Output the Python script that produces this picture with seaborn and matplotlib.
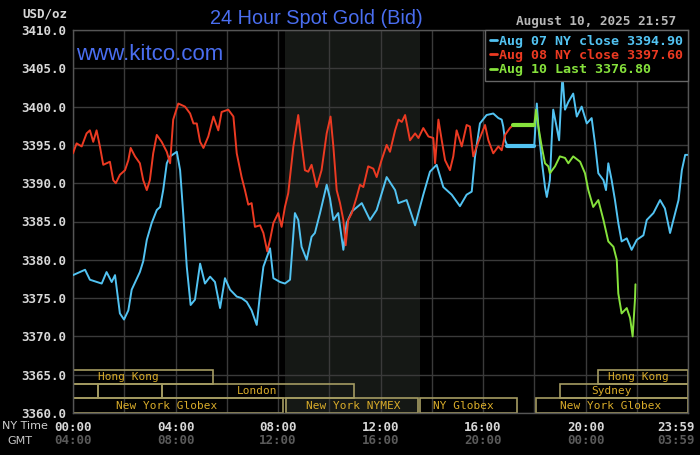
import matplotlib
matplotlib.use("Agg")
import matplotlib.pyplot as plt
from matplotlib.lines import Line2D
from matplotlib.patches import Rectangle
import matplotlib.transforms as mtransforms
import pandas as pd
import seaborn as sns

# series values (hour of NY day, USD/oz)
aug07_hours = [0.0, 0.47, 0.66, 1.12, 1.31, 1.51, 1.64, 1.83, 1.99, 2.16, 2.29, 2.61, 2.74, 2.88,
               3.07, 3.27, 3.40, 3.52, 3.66, 3.79, 4.05, 4.18, 4.30, 4.44, 4.59, 4.76, 4.96, 5.15,
               5.35, 5.54, 5.74, 5.93, 6.13, 6.39, 6.58, 6.78, 6.97, 7.17, 7.30, 7.43, 7.69, 7.82,
               8.08, 8.27, 8.47, 8.66, 8.79, 8.92, 9.12, 9.31, 9.44, 9.64, 9.90, 10.03, 10.16,
               10.35, 10.55, 10.68, 10.88, 11.27, 11.59, 11.85, 12.24, 12.57, 12.70, 13.02, 13.35,
               13.67, 13.93, 14.19, 14.45, 14.78, 15.10, 15.36, 15.56, 15.69, 15.88, 16.14, 16.40,
               16.60, 16.73, 16.79, 16.86, 16.95]
aug07_prices = [3378.0, 3378.7, 3377.4, 3376.9, 3378.4, 3377.1, 3378.0, 3373.0, 3372.2, 3373.4,
                3376.1, 3378.4, 3379.8, 3382.6, 3384.8, 3386.5, 3386.9, 3389.1, 3392.6, 3393.5,
                3394.1, 3391.7, 3386.1, 3379.1, 3374.1, 3374.8, 3379.5, 3376.9, 3377.8, 3377.1,
                3373.7, 3377.6, 3376.1, 3375.2, 3375.0, 3374.5, 3373.4, 3371.5, 3375.6, 3379.1,
                3381.5, 3377.6, 3377.1, 3376.9, 3377.4, 3386.1, 3385.2, 3381.7, 3380.0, 3383.0,
                3383.5, 3386.1, 3389.8, 3388.0, 3385.2, 3386.1, 3381.3, 3384.8, 3386.3, 3387.4,
                3385.2, 3386.5, 3390.8, 3389.1, 3387.4, 3387.8, 3384.5, 3388.5, 3391.5, 3392.4,
                3389.5, 3388.5, 3387.0, 3388.5, 3388.9, 3393.5, 3397.8, 3398.9, 3399.1, 3398.5,
                3398.3, 3397.4, 3395.6, 3394.9]
aug07_eve_hours = [18.0, 18.10, 18.16, 18.29, 18.42, 18.49, 18.61, 18.68, 18.74, 18.87, 18.97,
                   19.03, 19.10, 19.20, 19.33, 19.52, 19.66, 19.85, 20.05, 20.24, 20.37, 20.50,
                   20.70, 20.80, 20.89, 21.02, 21.15, 21.28, 21.41, 21.61, 21.80, 22.00, 22.26,
                   22.39, 22.65, 22.91, 23.10, 23.30, 23.43, 23.63, 23.76, 23.89, 23.98]
aug07_eve_prices = [3394.9, 3400.4, 3397.4, 3393.0, 3389.5, 3388.2, 3390.4, 3395.6, 3399.6,
                    3397.4, 3395.6, 3399.6, 3404.1, 3399.6, 3400.6, 3401.7, 3398.7, 3400.0,
                    3397.8, 3398.5, 3395.2, 3391.3, 3390.4, 3389.1, 3392.6, 3390.4, 3387.8,
                    3384.8, 3382.4, 3382.8, 3381.3, 3382.6, 3383.2, 3385.2, 3386.1, 3387.8,
                    3386.7, 3383.5, 3385.2, 3387.8, 3391.7, 3393.7, 3393.7]
aug08_hours = [0.0, 0.14, 0.34, 0.53, 0.66, 0.79, 0.92, 1.05, 1.18, 1.44, 1.57, 1.67, 1.83, 2.03,
               2.16, 2.25, 2.42, 2.61, 2.74, 2.88, 3.00, 3.13, 3.27, 3.46, 3.66, 3.79, 3.91, 4.11,
               4.37, 4.57, 4.70, 4.83, 4.96, 5.09, 5.28, 5.48, 5.67, 5.80, 6.06, 6.26, 6.39, 6.58,
               6.71, 6.84, 6.97, 7.10, 7.30, 7.43, 7.58, 7.69, 7.82, 8.01, 8.14, 8.27, 8.40, 8.60,
               8.79, 8.92, 9.05, 9.18, 9.31, 9.51, 9.70, 9.90, 10.05, 10.16, 10.29, 10.42, 10.55,
               10.64, 10.74, 10.88, 11.07, 11.20, 11.33, 11.52, 11.72, 11.85, 12.04, 12.24, 12.37,
               12.57, 12.70, 12.83, 12.96, 13.15, 13.35, 13.48, 13.67, 13.87, 14.06, 14.13, 14.26,
               14.39, 14.52, 14.71, 14.84, 14.97, 15.17, 15.36, 15.49, 15.62, 15.82, 16.08, 16.21,
               16.40, 16.60, 16.73, 16.86, 17.05, 17.18]
aug08_prices = [3393.9, 3395.2, 3394.8, 3396.5, 3396.9, 3395.4, 3396.9, 3394.8, 3392.4, 3392.8,
                3390.4, 3390.0, 3391.1, 3391.7, 3393.0, 3394.6, 3393.5, 3392.6, 3390.4, 3389.1,
                3390.4, 3393.9, 3396.3, 3395.4, 3394.1, 3392.6, 3398.3, 3400.4, 3400.0, 3399.1,
                3397.8, 3397.8, 3395.4, 3394.6, 3396.1, 3398.7, 3396.9, 3399.3, 3399.6, 3398.7,
                3393.9, 3390.8, 3389.1, 3387.2, 3387.4, 3384.3, 3384.5, 3383.5, 3381.1, 3382.6,
                3384.8, 3386.1, 3384.3, 3386.9, 3388.7, 3394.8, 3398.9, 3395.2, 3391.7, 3391.5,
                3392.4, 3389.5, 3391.7, 3396.5, 3398.7, 3394.8, 3389.1, 3387.4, 3385.2, 3381.9,
                3385.2, 3386.1, 3388.2, 3389.8, 3389.5, 3392.2, 3391.9, 3390.8, 3393.0, 3395.0,
                3394.1, 3396.9, 3398.3, 3398.0, 3398.9, 3395.6, 3396.5, 3395.9, 3397.2, 3396.1,
                3395.9, 3392.6, 3398.3, 3395.6, 3393.0, 3391.7, 3393.5, 3396.9, 3394.8, 3397.6,
                3397.4, 3393.5, 3395.4, 3397.6, 3395.6, 3393.9, 3394.8, 3394.3, 3396.3, 3397.2,
                3397.6]
aug10_hours = [18.0, 18.07, 18.16, 18.29, 18.42, 18.55, 18.61, 18.81, 19.00, 19.20, 19.33, 19.52,
               19.79, 19.98, 20.11, 20.30, 20.50, 20.70, 20.89, 21.09, 21.22, 21.28, 21.41, 21.61,
               21.74, 21.84, 21.93, 21.95]
aug10_prices = [3397.6, 3399.6, 3397.4, 3394.8, 3392.6, 3392.2, 3391.3, 3392.2, 3393.5, 3393.3,
                3392.6, 3393.5, 3392.8, 3391.3, 3389.1, 3386.9, 3387.8, 3385.2, 3382.4, 3381.7,
                3380.0, 3375.6, 3373.0, 3373.7, 3372.4, 3370.0, 3374.8, 3376.8]

aug07_close = 3394.90
aug08_close = 3397.60
aug10_last = 3376.80
aug07_close_from = 16.95
aug08_close_from = 17.18
reopen_hour = 18.0

series_labels = ["Aug 07 NY close 3394.90", "Aug 08 NY close 3397.60", "Aug 10 Last 3376.80"]
series_colors = ["#52c3f2", "#ec3a22", "#86e23c"]

y_ticks = [3360, 3365, 3370, 3375, 3380, 3385, 3390, 3395, 3400, 3405, 3410]
x_ticks = [0, 4, 8, 12, 16, 20, 24]
ny_labels = ["00:00", "04:00", "08:00", "12:00", "16:00", "20:00", "23:59"]
gmt_labels = ["04:00", "08:00", "12:00", "16:00", "20:00", "00:00", "03:59"]

# trading sessions: name, start hour, end hour, row, label hour
session_names = ["Hong Kong", "", "", "London", "New York Globex", "New York NYMEX",
                 "NY Globex", "New York Globex", "Sydney", "Hong Kong"]
session_start = [0.0, 0.0, 0.98, 3.47, 0.0, 8.33, 13.54, 18.07, 19.0, 20.5]
session_end = [5.47, 0.98, 3.47, 10.97, 8.2, 13.46, 17.33, 24.0, 24.0, 24.0]
session_row = [2, 1, 1, 1, 0, 0, 0, 0, 1, 2]
session_label_at = [2.15, 0, 0, 7.18, 3.67, 10.92, 15.22, 21.0, 21.0, 22.05]
nymex_span = (8.27, 13.54)

# build frames
blue = pd.DataFrame({"hour": aug07_hours + aug07_eve_hours,
                     "price": aug07_prices + aug07_eve_prices})
blue["series"] = series_labels[0]
red = pd.DataFrame({"hour": aug08_hours, "price": aug08_prices})
red["series"] = series_labels[1]
green = pd.DataFrame({"hour": [aug08_close_from] + aug10_hours,
                      "price": [aug08_close] + aug10_prices})
green["series"] = series_labels[2]
df = pd.concat([blue, red, green], ignore_index=True)

closes = pd.DataFrame({
    "hour": [aug07_close_from, reopen_hour, aug08_close_from, reopen_hour],
    "price": [aug07_close, aug07_close, aug08_close, aug08_close],
    "series": [series_labels[0], series_labels[0], series_labels[2], series_labels[2]],
})

sns.set_style("darkgrid", {"axes.facecolor": "black", "figure.facecolor": "black",
                           "grid.color": "#3a3a3a", "axes.edgecolor": "#555555"})
mono = "DejaVu Sans Mono"
palette = dict(zip(series_labels, series_colors))

fig = plt.figure(figsize=(7, 4.55), dpi=100)
ax = fig.add_axes([73 / 700, 42 / 455, 615 / 700, 383 / 455])
ax.set_axisbelow(True)

ax.axvspan(*nymex_span, color="#151815", zorder=0.2, lw=0)

sns.lineplot(data=df, x="hour", y="price", hue="series", palette=palette, units="series",
             estimator=None, sort=False, lw=1.4, legend=False, ax=ax, zorder=3)
sns.lineplot(data=closes, x="hour", y="price", hue="series", palette=palette, units="series",
             estimator=None, sort=False, lw=3, legend=False, ax=ax, zorder=3)

# session boxes along the bottom
row_edges = [3360.0, 3361.9, 3363.8, 3365.6]
for name, s, e, r, lx in zip(session_names, session_start, session_end, session_row, session_label_at):
    ax.add_patch(Rectangle((s, row_edges[r]), e - s, row_edges[r + 1] - row_edges[r],
                           fill=False, ec="#a59c62", lw=1.2, zorder=2))
    if name:
        ax.text(lx, (row_edges[r] + row_edges[r + 1]) / 2, name, ha="center", va="center",
                family=mono, fontsize=8, color="#d9ac2a", zorder=2)

ax.set_xlim(0, 24)
ax.set_ylim(3360, 3410)
ax.set_xticks(x_ticks)
ax.set_xticks(range(2, 24, 4), minor=True)
ax.set_xticklabels(ny_labels, family=mono, fontweight="bold", fontsize=9, color="#d8d8d8")
ax.set_yticks(y_ticks)
ax.set_yticklabels([f"{v:.1f}" for v in y_ticks], family=mono, fontweight="bold",
                   fontsize=9, color="#d8d8d8")
ax.grid(True, which="both", color="#3a3a3a", lw=1)
ax.tick_params(axis="both", which="both", length=0)
ax.tick_params(axis="x", pad=6)
ax.tick_params(axis="y", pad=5)
ax.set_xlabel("")
ax.set_ylabel("")
for sp in ax.spines.values():
    sp.set_color("#555555")
    sp.set_linewidth(1)

# last time label sits a little left of the right edge
shift = mtransforms.ScaledTranslation(-12 / 100, 0, fig.dpi_scale_trans)
last = ax.get_xticklabels()[-1]
last.set_transform(last.get_transform() + shift)

trans = mtransforms.blended_transform_factory(ax.transData, ax.transAxes)
for i, (xv, lab) in enumerate(zip(x_ticks, gmt_labels)):
    tr = trans + shift if i == len(x_ticks) - 1 else trans
    ax.text(xv, -28 / 383, lab, transform=tr, ha="center", va="center",
            family=mono, fontweight="bold", fontsize=9, color="#5a5a5a")

handles = [Line2D([], [], color=c, lw=2) for c in series_colors]
leg = ax.legend(handles, series_labels, loc="upper right", bbox_to_anchor=(1, 1),
                borderaxespad=0, frameon=True, fancybox=False, facecolor="black",
                edgecolor="#666666", handlelength=0.5, handletextpad=0.2,
                labelspacing=0.1, borderpad=0.35, labelcolor=series_colors,
                prop={"family": mono, "weight": "bold", "size": 9.6})
leg.get_frame().set_alpha(1)
leg.set_zorder(5)

fig.text(210 / 700, 1 - 24 / 455, "24 Hour Spot Gold (Bid)", family="Liberation Sans",
         fontsize=14.3, color="#4a6ef0", va="baseline", ha="left")
fig.text(76 / 700, 1 - 60 / 455, "www.kitco.com", family="Liberation Sans",
         fontsize=16, color="#4a6ef0", va="baseline", ha="left")
fig.text(676 / 700, 1 - 21 / 455, "August 10, 2025 21:57", family=mono, fontweight="bold",
         fontsize=9.2, color="#b8b8b8", va="center", ha="right")
fig.text(67 / 700, 1 - 14 / 455, "USD/oz", family=mono, fontweight="bold",
         fontsize=9, color="#d8d8d8", va="center", ha="right")
fig.text(2 / 700, 1 - 426 / 455, "NY Time", fontsize=8, color="#d0d0d0", va="center", ha="left")
fig.text(20 / 700, 1 - 441 / 455, "GMT", fontsize=8, color="#c8c8c8", va="center", ha="center")

fig.savefig("out.png", dpi=100, facecolor="black")
